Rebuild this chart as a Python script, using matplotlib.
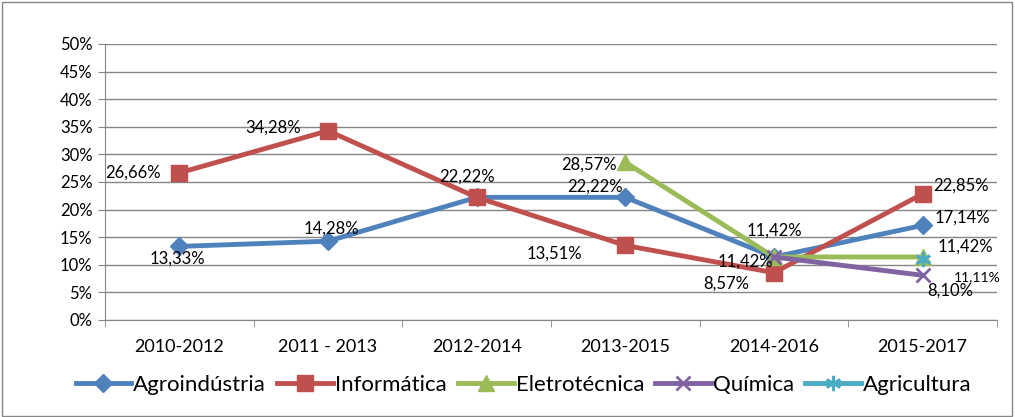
import numpy as np
import matplotlib.pyplot as plt
from matplotlib.patches import Rectangle

plt.rcParams['font.family'] = ['Lato', 'DejaVu Sans']

periods = ["2010-2012", "2011 - 2013", "2012-2014", "2013-2015", "2014-2016", "2015-2017"]
nan = np.nan
agro = [13.33, 14.28, 22.22, 22.22, 11.42, 17.14]
info = [26.66, 34.28, 22.22, 13.51, 8.57, 22.85]
eletro = [nan, nan, nan, 28.57, 11.42, 11.42]
quimica = [nan, nan, nan, nan, 11.42, 8.10]
agricultura = [nan, nan, nan, nan, nan, 11.11]

series = [
    ("Agroindústria", agro, "#4F81BD", "D", 9),
    ("Informática", info, "#C0504D", "s", 12),
    ("Eletrotécnica", eletro, "#9BBB59", "^", 12),
    ("Química", quimica, "#8064A2", "x", 10),
    ("Agricultura", agricultura, "#4BACC6", (6, 2, 0), 11),
]

# label offsets in pixels (dx, dy) per series / point
label_offsets = {
    "Agroindústria": [(-2, -12), (3, 13), None, (-30, 11), (0, 26), (40, 8)],
    "Informática": [(-46, 0), (-55, 3), (-10, 21), (-71, -8), (-48, -11), (38, 8)],
    "Eletrotécnica": [None, None, None, (-36, -2), (-29, -5), (43, 10)],
    "Química": [None, None, None, None, None, (28, -15)],
    "Agricultura": [None, None, None, None, None, (55, -18)],
}

fig = plt.figure(figsize=(10.15, 4.17), dpi=100)
ax = fig.add_axes([105 / 1015, 1 - 320 / 417, 892 / 1015, 276 / 417])

x = np.arange(len(periods))
for name, vals, color, marker, ms in series:
    mew = 2 if marker == "x" or isinstance(marker, tuple) else 1
    ax.plot(x, vals, color=color, lw=3.5, marker=marker, ms=ms, mew=mew,
            mec=color, mfc=color, label=name, zorder=3)
    for i, v in enumerate(vals):
        off = label_offsets[name][i]
        if off is None or np.isnan(v):
            continue
        fs = 10 if name == "Agricultura" else 12
        ax.annotate(f"{v:.2f}%".replace(".", ","), (i, v), xytext=off,
                    textcoords="offset pixels", ha="center", va="center",
                    fontsize=fs, color="black", zorder=4)

ax.set_xlim(-0.5, 5.5)
ax.set_ylim(0, 50)
ax.set_yticks(np.arange(0, 51, 5))
ax.set_yticklabels([f"{t}%" for t in range(0, 51, 5)], fontsize=12)
ax.set_xticks(x)
ax.set_xticklabels(periods, fontsize=13)
ax.set_xticks(np.arange(-0.5, 6, 1), minor=True)
ax.tick_params(axis="x", which="major", length=0, pad=14)
ax.tick_params(axis="x", which="minor", length=5, color="#868686")
ax.tick_params(axis="y", length=5, color="#868686", pad=4)
ax.grid(axis="y", color="#868686", lw=1)
ax.set_axisbelow(True)
for s in ["top", "right"]:
    ax.spines[s].set_visible(False)
for s in ["left", "bottom"]:
    ax.spines[s].set_color("#868686")

fig.legend(loc="center", bbox_to_anchor=(0.516, 1 - 385 / 417), ncol=5, frameon=False,
           fontsize=16, handlelength=2.5, handletextpad=0.1, columnspacing=0.5)

fig.patches.append(Rectangle((0.002, 0.003), 0.995, 0.993, transform=fig.transFigure,
                             fill=False, edgecolor="#868686", lw=1))

fig.savefig("out.png", dpi=100)
